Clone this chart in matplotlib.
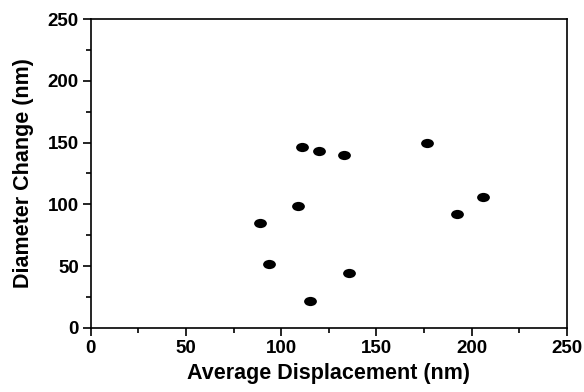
import numpy as np
import matplotlib
matplotlib.use("Agg")
import matplotlib.pyplot as plt
from matplotlib.path import Path
from matplotlib.transforms import Affine2D

# data
displacement = [88.8, 93.8, 108.9, 111.1, 115.3, 119.9, 132.9, 135.8, 176.8, 192.4, 206.2]
diameter_change = [84.6, 51.6, 98.4, 146.5, 21.9, 143.5, 140.2, 44.3, 149.7, 92.1, 105.7]

x_ticks = [0, 50, 100, 150, 200, 250]
y_ticks = [0, 50, 100, 150, 200, 250]

plt.rcParams['font.family'] = ['Liberation Sans', 'DejaVu Sans']
plt.rcParams['font.weight'] = 'bold'

fig = plt.figure(figsize=(5.84, 3.92), dpi=100)
ax = fig.add_axes([0.1553, 0.164, 0.8151, 0.7868])

# flat ellipse marker like the original
ellipse = Affine2D().scale(1.0, 0.72).transform_path(Path.unit_circle())
ax.scatter(displacement, diameter_change, marker=ellipse, s=85, color='black',
           linewidths=0, zorder=3)

ax.set_xlim(0, 250)
ax.set_ylim(0, 250)
ax.set_xticks(x_ticks)
ax.set_yticks(y_ticks)
ax.set_xticks(np.arange(25, 250, 50), minor=True)
ax.set_yticks(np.arange(25, 250, 50), minor=True)

for side in ax.spines.values():
    side.set_linewidth(1.2)
ax.tick_params(which='major', direction='out', length=5.5, width=1.2,
               labelsize=13.5, pad=3)
ax.tick_params(which='minor', direction='out', length=3.5, width=1.2)

ax.set_xlabel('Average Displacement (nm)', fontsize=15.5, fontweight='bold', labelpad=5)
ax.set_ylabel('Diameter Change (nm)', fontsize=15.5, fontweight='bold', labelpad=10)

fig.savefig('out.png', dpi=100)
